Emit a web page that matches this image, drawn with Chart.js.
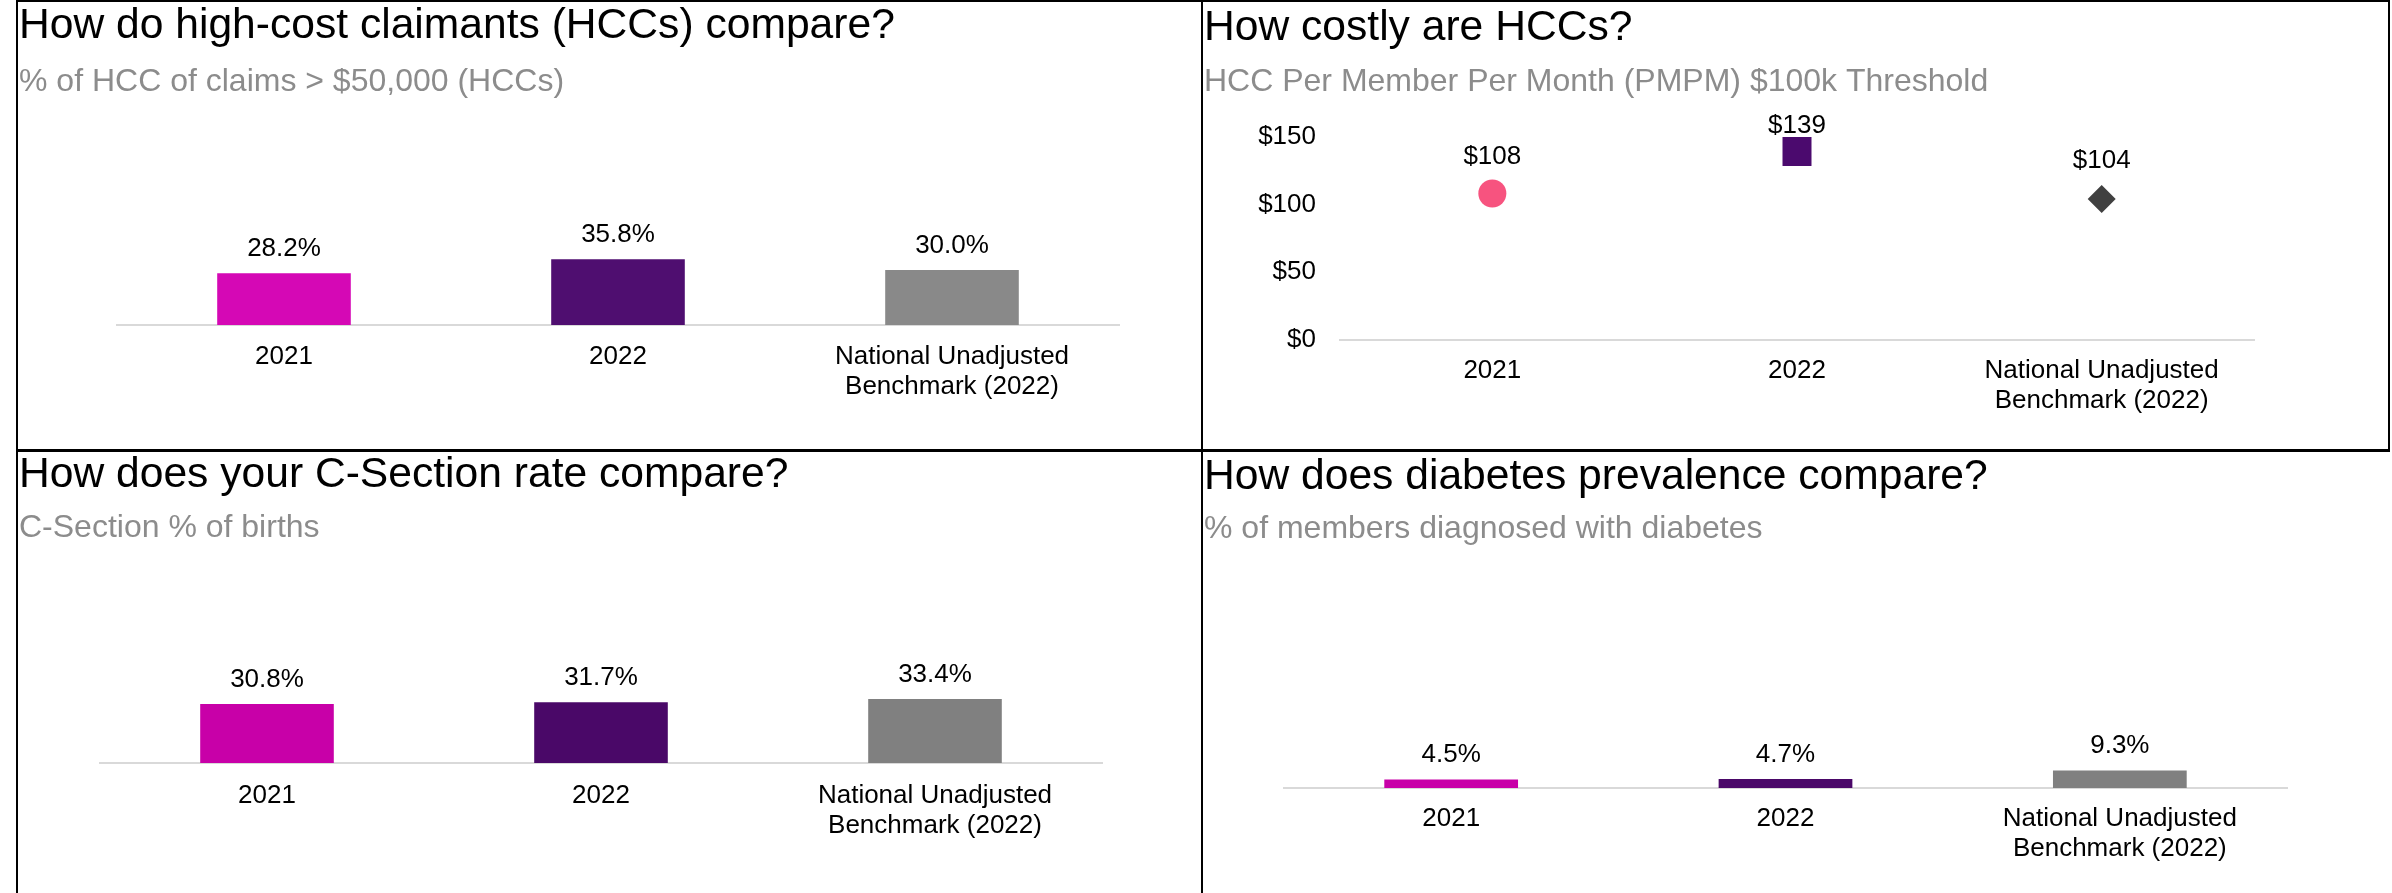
<!DOCTYPE html>
<html>
<head>
<meta charset="utf-8">
<script src="https://cdn.jsdelivr.net/npm/chart.js@4.4.0/dist/chart.umd.min.js"></script>
<style>
  body { margin: 0; background: #fff; width: 2392px; height: 893px; position: relative; overflow: hidden; }
  .rule { position: absolute; background: #000; }
  canvas { position: absolute; }
</style>
</head>
<body>
<div class="rule" style="left:16px;top:0;width:2374px;height:2px"></div>
<div class="rule" style="left:16px;top:0;width:2px;height:893px"></div>
<div class="rule" style="left:1201px;top:0;width:2px;height:893px"></div>
<div class="rule" style="left:2388px;top:0;width:2px;height:451px"></div>
<div class="rule" style="left:16px;top:449px;width:2374px;height:3px"></div>

<canvas id="hccShare" width="1181" height="445" style="left:19px;top:3px"></canvas>
<canvas id="hccCost" width="1184" height="445" style="left:1204px;top:3px"></canvas>
<canvas id="cSection" width="1181" height="441" style="left:19px;top:452px"></canvas>
<canvas id="diabetes" width="1184" height="441" style="left:1204px;top:452px"></canvas>

<script>
const categories = ["2021", "2022", ["National Unadjusted", "Benchmark (2022)"]];

const hccShare = [28.2, 35.8, 30.0];
const hccPmpm = [108, 139, 104];
const cSectionRate = [30.8, 31.7, 33.4];
const diabetesRate = [4.5, 4.7, 9.3];

const pmpmTicks = [0, 50, 100, 150];

const FONT = "'Liberation Sans', Arial, sans-serif";
Chart.defaults.font.family = FONT;
Chart.defaults.color = "#000";

// draws the value above each bar / point
const valueLabels = {
  id: "valueLabels",
  afterDatasetsDraw(chart, args, opts) {
    const ctx = chart.ctx;
    ctx.save();
    ctx.font = `${opts.size}px ${FONT}`;
    ctx.fillStyle = "#000";
    ctx.textAlign = "center";
    ctx.textBaseline = "alphabetic";
    chart.data.datasets.forEach((ds, i) => {
      chart.getDatasetMeta(i).data.forEach((el, j) => {
        const off = Array.isArray(opts.offset) ? opts.offset[j] : opts.offset;
        const txt = opts.prefix + ds.data[j].toFixed(opts.decimals) + opts.suffix;
        ctx.fillText(txt, el.x, el.y - off);
      });
    });
    ctx.restore();
  }
};

function headings(title, subtitle, pad) {
  return {
    title: {
      display: true, text: title, align: "start", color: "#000",
      font: { size: 42.6, weight: "normal", lineHeight: 1.1 },
      padding: { top: pad.titleTop, bottom: 0 }
    },
    subtitle: {
      display: true, text: subtitle, align: "start", color: "#8c8c8c",
      font: { size: 32, lineHeight: 1.1 },
      padding: { top: pad.subTop, bottom: pad.subBottom }
    }
  };
}

function xAxis(pad, height) {
  return {
    offset: true,
    grid: { display: false, drawTicks: false },
    border: { color: "#d9d9d9", width: 2 },
    ticks: { color: "#000", font: { size: 26, lineHeight: 1.154 }, padding: pad, maxRotation: 0, autoSkip: false },
    afterFit(s) { s.height = height; }
  };
}

function barChart(id, values, colors, title, subtitle, box) {
  return new Chart(document.getElementById(id), {
    type: "bar",
    data: {
      labels: categories,
      datasets: [{ data: values, backgroundColor: colors, barPercentage: 0.4, categoryPercentage: 1 }]
    },
    options: {
      responsive: false,
      animation: false,
      layout: { padding: { left: 0, right: box.right, top: 0, bottom: 0 } },
      plugins: Object.assign({
        legend: { display: false },
        tooltip: { enabled: false },
        valueLabels: { size: 26, offset: 17, prefix: "", suffix: "%", decimals: 1 }
      }, headings(title, subtitle, box)),
      scales: {
        x: xAxis(box.tickPad, box.xHeight),
        y: {
          min: 0, max: 100,
          grid: { display: false, drawTicks: false },
          border: { display: false },
          ticks: { display: false },
          afterFit(s) { s.width = box.left; }
        }
      }
    },
    plugins: [valueLabels]
  });
}

barChart("hccShare", hccShare, ["#d508b5", "#4f0e70", "#898989"],
  "How do high-cost claimants (HCCs) compare?", "% of HCC of claims > $50,000 (HCCs)",
  { left: 98, right: 81, titleTop: 0, subTop: 15, subBottom: 41.5, tickPad: 17, xHeight: 123 });

barChart("cSection", cSectionRate, ["#c800a8", "#4a0868", "#808080"],
  "How does your C-Section rate compare?", "C-Section % of births",
  { left: 81, right: 98, titleTop: 0, subTop: 12, subBottom: 25.5, tickPad: 18, xHeight: 130 });

barChart("diabetes", diabetesRate, ["#c800a8", "#4a0868", "#808080"],
  "How does diabetes prevalence compare?", "% of members diagnosed with diabetes",
  { left: 80, right: 101, titleTop: 2, subTop: 11, subBottom: 51.5, tickPad: 16, xHeight: 105 });

// HCC PMPM: one marker per category
new Chart(document.getElementById("hccCost"), {
  type: "line",
  data: {
    labels: categories,
    datasets: [{
      data: hccPmpm,
      showLine: false,
      clip: false,
      pointStyle: ["circle", "rect", "rectRot"],
      pointRadius: [14, 20.5, 14],
      pointBackgroundColor: ["#f7537f", "#4b0a6e", "#404040"],
      pointBorderColor: ["#f7537f", "#4b0a6e", "#404040"],
      pointBorderWidth: 0
    }]
  },
  options: {
    responsive: false,
    animation: false,
    layout: { padding: { left: 0, right: 134, top: 0, bottom: 0 } },
    plugins: Object.assign({
      legend: { display: false },
      tooltip: { enabled: false },
      valueLabels: { size: 26, offset: [30, 18, 31], prefix: "$", suffix: "", decimals: 0 }
    }, headings("How costly are HCCs?", "HCC Per Member Per Month (PMPM) $100k Threshold",
      { titleTop: 2, subTop: 13, subBottom: 36.5 })),
    scales: {
      x: xAxis(16, 108),
      y: {
        min: pmpmTicks[0], max: pmpmTicks[pmpmTicks.length - 1],
        grid: { display: false, drawTicks: false },
        border: { display: false },
        ticks: { stepSize: 50, color: "#000", font: { size: 26 }, padding: 24, callback: v => "$" + v },
        afterFit(s) { s.width = 136; }
      }
    }
  },
  plugins: [valueLabels]
});
</script>
</body>
</html>
